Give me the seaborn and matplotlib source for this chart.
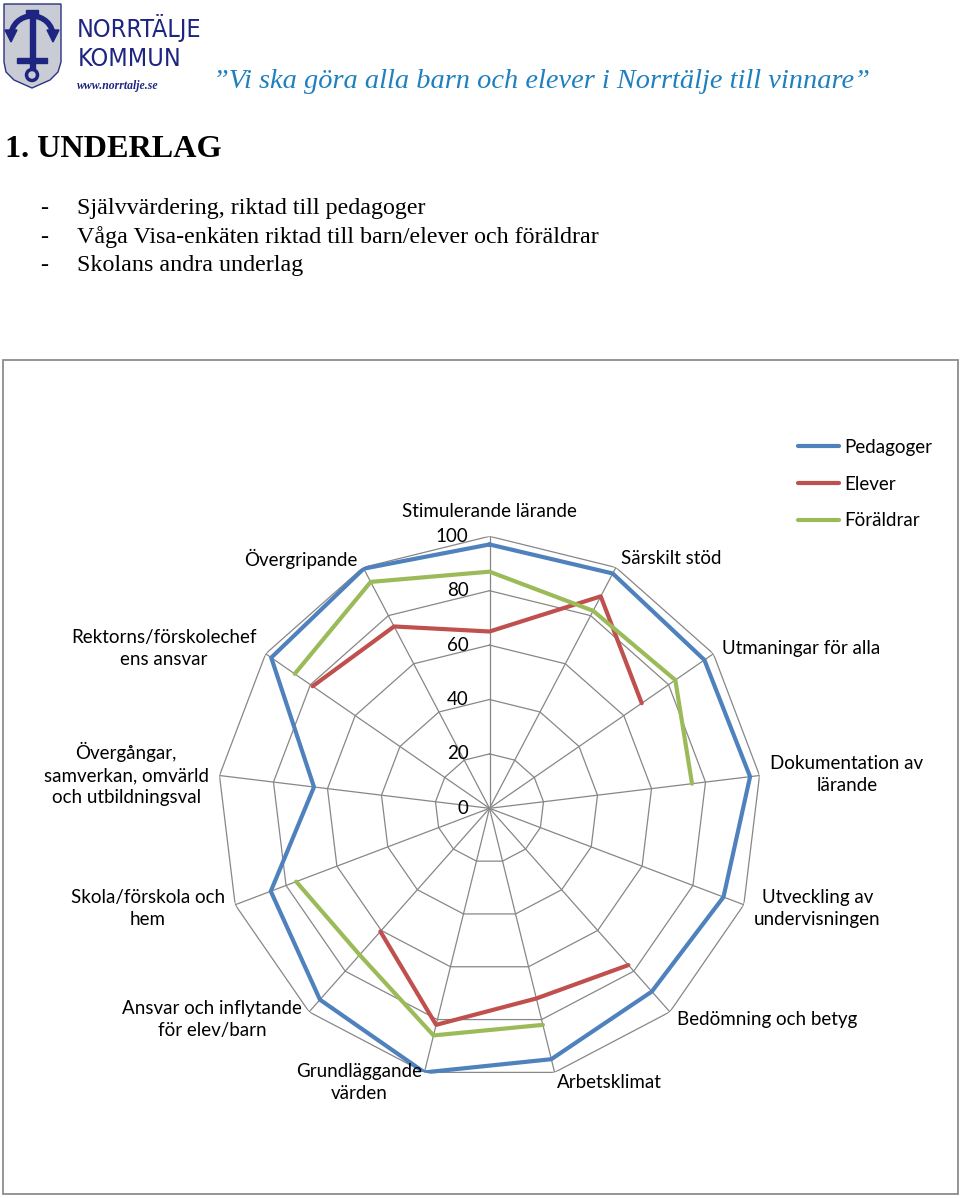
import numpy as np
import pandas as pd
import matplotlib
matplotlib.use("Agg")
import matplotlib.pyplot as plt
from matplotlib.lines import Line2D
from matplotlib.patches import Rectangle, Polygon, Circle, Arc
import seaborn as sns

# chart data, read off the radar (0-100 scale), NaN = no answer
omraden = [
    "Stimulerande lärande",
    "Särskilt stöd",
    "Utmaningar för alla",
    "Dokumentation av\nlärande",
    "Utveckling av\nundervisningen",
    "Bedömning och betyg",
    "Arbetsklimat",
    "Grundläggande\nvärden",
    "Ansvar och inflytande\nför elev/barn",
    "Skola/förskola och\nhem",
    "Övergångar,\nsamverkan, omvärld\noch utbildningsval",
    "Rektorns/förskolechef\nens ansvar",
    "Övergripande",
]
nan = np.nan
pedagoger = [97, 97.5, 96, 96.5, 92, 90, 95, 100, 94, 86, 65, 97.5, 99.5]
elever = [65, 88, 68, nan, nan, 77, 72, 82, 60.5, nan, nan, 79, 75.5]
foraldrar = [87, 82, 83, 75, nan, nan, 82, 86, 72, 76, nan, 87, 94]
serier = ["Pedagoger", "Elever", "Föräldrar"]
farger = ["#4F81BD", "#C0504D", "#9BBB59"]
skala = [0, 20, 40, 60, 80, 100]

punkter = [
    "Självvärdering, riktad till pedagoger",
    "Våga Visa-enkäten riktad till barn/elever och föräldrar",
    "Skolans andra underlag",
]

n = len(omraden)
step = 2 * np.pi / n


def segments(name, values):
    """Walk round the radar and split the series where a value is missing."""
    vals = np.asarray(values, float)
    if np.isnan(vals).any():
        start = next(i for i in range(n) if np.isnan(vals[i - 1]) and not np.isnan(vals[i]))
        idx = range(start, start + n)
    else:
        idx = range(0, n + 1)
    rows, seg = [], 0
    for i in idx:
        v = vals[i % n]
        if np.isnan(v):
            seg += 1
            continue
        rows.append({"vinkel": i * step, "varde": v, "grupp": name, "del": f"{name}{seg}"})
    return rows


rows = []
for name, values in zip(serier, [pedagoger, elever, foraldrar]):
    rows += segments(name, values)
df = pd.DataFrame(rows)

sns.set_theme(style="white")
plt.rcParams["font.family"] = ["Lato", "DejaVu Sans"]
plt.rcParams["text.color"] = "black"

W, H = 960, 1198
fig = plt.figure(figsize=(W / 100, H / 100), dpi=100)

# page layer in pixel coordinates (y downwards)
page = fig.add_axes([0, 0, 1, 1])
page.set_xlim(0, W)
page.set_ylim(H, 0)
page.axis("off")

# logo: shield with anchor
navy = "#1E2580"
page.add_patch(Polygon([(4, 4), (61, 4), (61, 62), (58, 72), (50, 80), (32, 88),
                        (14, 80), (6, 72), (4, 62)], closed=True,
                       facecolor="#C9CCD5", edgecolor="#2A3380", lw=1))
page.add_patch(Rectangle((29.5, 13), 5, 56, color=navy))
page.add_patch(Rectangle((26, 10), 12, 5, color=navy))
page.add_patch(Arc((32, 36), 42, 40, theta1=180, theta2=360, color=navy, lw=4))
page.add_patch(Polygon([(5, 30), (17, 30), (11, 42)], color=navy))
page.add_patch(Polygon([(47, 30), (59, 30), (53, 42)], color=navy))
page.add_patch(Rectangle((17, 58), 30, 5, color=navy))
page.add_patch(Circle((32, 75), 5.5, fill=False, ec=navy, lw=2.5))

page.text(77, 37, "NORRTÄLJE", fontsize=18, color=navy, fontstretch="condensed",
          family=["DejaVu Sans"])
page.text(78, 66, "KOMMUN", fontsize=18, color=navy, fontstretch="condensed",
          family=["DejaVu Sans"])
page.text(77, 89, "www.norrtalje.se", fontsize=8.5, color=navy, style="italic",
          weight="bold", family=["Liberation Serif"])
page.text(213, 88, "”Vi ska göra alla barn och elever i Norrtälje till vinnare”",
          fontsize=20.4, color="#1F80BF", style="italic", family=["Liberation Serif"])

page.text(5, 157, "1. UNDERLAG", fontsize=23.2, weight="bold", family=["Liberation Serif"])
for k, txt in enumerate(punkter):
    y = 214 + k * 28.5
    page.text(40, y, "-", fontsize=17.3, family=["Liberation Serif"])
    page.text(77, y, txt, fontsize=17.3, family=["Liberation Serif"])

# chart frame
page.add_patch(Rectangle((3, 360), 955, 834, fill=False, ec="#8C8C8C", lw=1.3))

# radar
cx, cy, R = 489.5, 808.3, 272
ax = fig.add_axes([(cx - R) / W, (H - cy - R) / H, 2 * R / W, 2 * R / H], projection="polar")
ax.set_theta_zero_location("N")
ax.set_theta_direction(-1)
ax.set_ylim(0, 100)
ax.grid(False)
ax.spines["polar"].set_visible(False)
ax.set_xticks([])
ax.set_yticks([])
ax.patch.set_alpha(0)

ring = np.arange(n + 1) * step
grid_col = "#878787"
for r in skala[1:]:
    ax.plot(ring, [r] * len(ring), color=grid_col, lw=0.9, zorder=1)
for t in ring[:-1]:
    ax.plot([t, t], [0, 100], color=grid_col, lw=0.9, zorder=1)

sns.lineplot(data=df, x="vinkel", y="varde", hue="grupp", units="del", estimator=None,
             sort=False, hue_order=serier, palette=farger, linewidth=3, legend=False,
             ax=ax, zorder=3)
ax.set_xlabel("")
ax.set_ylabel("")

fs = 13.5
for r in skala:
    ax.annotate(str(r), xy=(0, r), xytext=(-21, 0), textcoords="offset pixels",
                ha="right", va="center", fontsize=fs)

for i, lab in enumerate(omraden):
    t = i * step
    s, c = np.sin(t), np.cos(t)
    if abs(s) < 0.05:
        ha, dx, dy = "center", 0, 25
    else:
        ha = "left" if s > 0 else "right"
        dx, dy = 11 * s, 10 * c
    ax.annotate(lab, xy=(t, 100), xytext=(dx, dy), textcoords="offset pixels",
                ha=ha, va="center", multialignment="center", fontsize=fs,
                linespacing=1.35, annotation_clip=False)

handles = [Line2D([], [], color=col, lw=3) for col in farger]
fig.legend(handles, serier, loc="upper left", bbox_to_anchor=(798 / W, 1 - 439 / H),
           frameon=False, borderpad=0, borderaxespad=0, handlelength=2.2,
           handletextpad=0.25, labelspacing=1.05, fontsize=fs)

fig.savefig("out.png", dpi=100)
